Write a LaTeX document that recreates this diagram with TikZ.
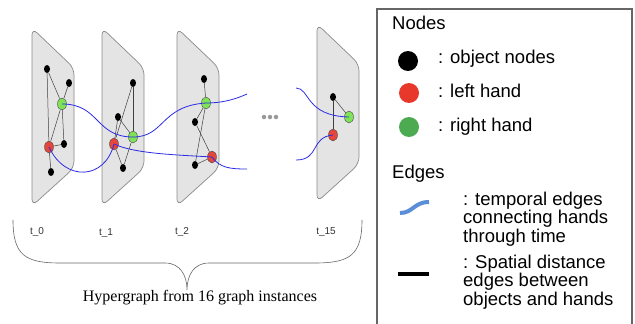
\documentclass[tikz,border=0pt]{standalone}
\usepackage{fontspec}
\setmainfont{Liberation Serif}
\setsansfont{Liberation Sans}
\usetikzlibrary{shapes.geometric}
\definecolor{panel-fill}{HTML}{E4E4E4}
\definecolor{panel-line}{HTML}{8A8A8A}
\definecolor{hand-left}{HTML}{E5453A}
\definecolor{hand-right}{HTML}{7EE356}
\definecolor{time-edge}{HTML}{2B2BE6}
\definecolor{legend-red}{HTML}{E8382C}
\definecolor{legend-green}{HTML}{4CAA50}
\definecolor{legend-blue}{HTML}{5B8ED8}
\definecolor{box-line}{HTML}{666666}

\begin{document}
\begin{tikzpicture}[x=1pt, y=-1pt,
    panel/.style={draw=panel-line, fill=panel-fill, rounded corners=7pt, line width=0.7pt},
    obj/.style={ellipse, fill=black, inner sep=0pt, minimum width=6pt, minimum height=8pt},
    lhand/.style={ellipse, draw=black!70, fill=hand-left, inner sep=0pt,
                  minimum width=9pt, minimum height=12pt, line width=0.4pt},
    rhand/.style={lhand, fill=hand-right},
    spatial/.style={draw=black!75, line width=0.5pt},
    temporal/.style={draw=time-edge, line width=0.8pt},
    tlabel/.style={font=\sffamily\fontsize{10}{12}\selectfont, text=black!80},
    legtext/.style={font=\sffamily\fontsize{18.5}{16}\selectfont, anchor=base west,
                    inner sep=0pt, align=left},
    legdot/.style={circle, minimum size=20pt, inner sep=0pt}]
  \useasboundingbox (0,0) rectangle (635,324);

  \draw[panel] (32,28) -- (74,68) -- (74,168) -- (32,206) -- cycle;
  \draw[panel] (102,28) -- (144,68) -- (144,168) -- (102,206) -- cycle;
  \draw[panel] (177,28) -- (219,68) -- (219,168) -- (177,206) -- cycle;
  \draw[panel] (317,24) -- (359,64) -- (359,164) -- (317,202) -- cycle;

  \node[obj]   (O1a) at (47,69)  {};
  \node[obj]   (O1b) at (69,83)  {};
  \node[rhand] (G1)  at (62,104) {};
  \node[obj]   (O1c) at (64,144) {};
  \node[lhand] (R1)  at (49,147) {};
  \node[obj]   (O1d) at (51,172) {};

  \node[obj]   (O2a) at (133,83)  {};
  \node[obj]   (O2b) at (118,117) {};
  \node[rhand] (G2)  at (133,137) {};
  \node[lhand] (R2)  at (114,144) {};
  \node[obj]   (O2c) at (123,168) {};

  \node[obj]   (O3a) at (204,79)  {};
  \node[rhand] (G3)  at (206,103) {};
  \node[obj]   (O3b) at (195,122) {};
  \node[lhand] (R3)  at (212,157) {};
  \node[obj]   (O3c) at (195,165) {};

  \node[obj]   (O4)  at (333,97)  {};
  \node[rhand] (G4)  at (349,117) {};
  \node[lhand] (R4)  at (333,135) {};

  \draw[spatial] (O1a) -- (G1);
  \draw[spatial] (O1b) -- (G1);
  \draw[spatial] (O1a) -- (R1);
  \draw[spatial] (G1) -- (O1c);
  \draw[spatial] (G1) -- (R1);
  \draw[spatial] (R1) -- (O1c);
  \draw[spatial] (R1) -- (O1d);

  \draw[spatial] (O2a) -- (G2);
  \draw[spatial] (O2a) -- (R2);
  \draw[spatial] (O2b) -- (G2);
  \draw[spatial] (O2b) -- (R2);
  \draw[spatial] (R2) -- (O2c);
  \draw[spatial] (G2) -- (O2c);

  \draw[spatial] (O3a) -- (G3);
  \draw[spatial] (G3) -- (O3b);
  \draw[spatial] (G3) -- (O3c);
  \draw[spatial] (O3b) -- (R3);
  \draw[spatial] (O3c) -- (R3);

  \draw[spatial] (O4) -- (G4);
  \draw[spatial] (O4) -- (R4);

  \coordinate (G3end) at (247,94);
  \coordinate (R3end) at (247,169);
  \coordinate (G4in)  at (296,88);
  \coordinate (R4in)  at (296,160);

  \draw[temporal] (G1.center) .. controls (100,104) and (95,137) .. (G2.center);
  \draw[temporal] (R1.center) .. controls (65,182) and (105,180) .. (R2.center);
  \draw[temporal] (G2.center) .. controls (165,137) and (160,106) .. (G3.center);
  \draw[temporal] (R2.center) .. controls (135,154) and (180,155) .. (R3.center);
  \draw[temporal] (G3.center) .. controls (225,103) and (238,98) .. (G3end);
  \draw[temporal] (R3.center) .. controls (220,168) and (230,169) .. (R3end);
  \draw[temporal] (G4in) .. controls (310,88) and (305,116) .. (G4.center);
  \draw[temporal] (R4in) .. controls (320,160) and (310,137) .. (R4.center);

  \node[circle, fill=gray!80, inner sep=0pt, minimum size=4.5pt] (D1) at (264,117) {};
  \node[circle, fill=gray!80, inner sep=0pt, minimum size=4.5pt] (D2) at (270,117) {};
  \node[circle, fill=gray!80, inner sep=0pt, minimum size=4.5pt] (D3) at (276,117) {};

  \node[tlabel] (T0)  at (37,232)  {t\_0};
  \node[tlabel] (T1)  at (106,233) {t\_1};
  \node[tlabel] (T2)  at (182,232) {t\_2};
  \node[tlabel] (T15) at (326,232) {t\_15};

  \draw[draw=black!60, line width=0.6pt]
    (13,220) .. controls (13,255) and (25,263) .. (60,263) -- (165,263)
    .. controls (180,263) and (187,275) .. (187,290)
    .. controls (187,275) and (194,263) .. (209,263) -- (315,263)
    .. controls (350,263) and (362,255) .. (362,220);
  \node[font=\fontsize{16}{18}\selectfont] (CAP) at (200,298) {Hypergraph from 16 graph instances};

  \draw[draw=box-line, line width=1.2pt] (377,324) -- (377,9) -- (632,9) -- (632,324);

  \node[legtext] (NH) at (392,29) {Nodes};
  \node[legdot, fill=black] (LB) at (408,61) {};
  \node[legtext] (LBt) at (438,63) {: object nodes};
  \node[legdot, fill=legend-red] (LR) at (409,93) {};
  \node[legtext] (LRt) at (438,97) {: left hand};
  \node[legdot, fill=legend-green] (LG) at (409,127) {};
  \node[legtext] (LGt) at (438,131) {: right hand};

  \node[legtext] (EH) at (392,178) {Edges};
  \draw[draw=legend-blue, line width=4pt] (400,213) .. controls (413,213) and (414,202) .. (429,202);
  \node[legtext] (LTt) at (463,242) {: temporal edges\\connecting hands\\through time};
  \draw[draw=black, line width=3.5pt] (398,274) -- (429,274);
  \node[legtext] (LSt) at (463,305) {: Spatial distance\\edges between\\objects and hands};
\end{tikzpicture}
\end{document}
